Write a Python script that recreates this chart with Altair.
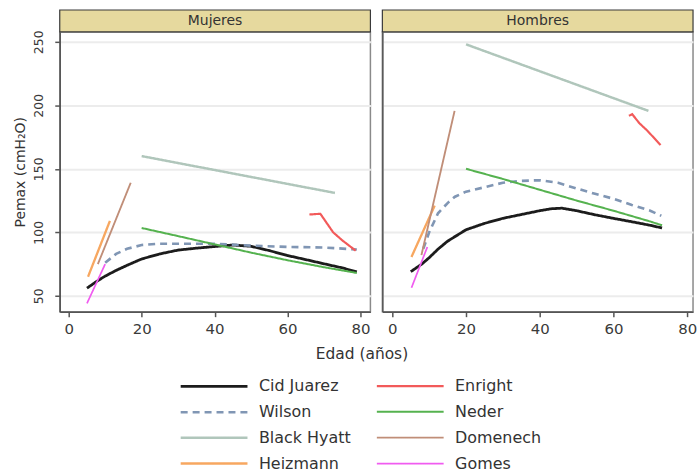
import altair as alt
import pandas as pd

# ---------------- data ----------------
# Mujeres
muj_cid_age = [5, 8, 10, 13, 16, 20, 25, 30, 35, 40, 45, 50, 55, 60, 65, 70, 75, 79]
muj_cid_val = [56, 62, 65.5, 70, 74, 79, 83, 86, 87.5, 88.8, 90, 89, 85.6, 81.7, 78.5, 75.2, 72, 68.8]
muj_wil_age = [10, 13, 16, 20, 25, 30, 40, 50, 60, 70, 79]
muj_wil_val = [76, 83, 87, 90, 91, 91, 91, 89.5, 88.5, 88, 86.5]
muj_bh_age = [20, 73]
muj_bh_val = [160, 131]
muj_hei_age = [5.3, 11.3]
muj_hei_val = [65, 109]
muj_enr_age = [66, 69, 72.5, 75, 78.7]
muj_enr_val = [114, 114.6, 100, 93.7, 85.5]
muj_ned_age = [20, 30, 40, 50, 60, 70, 79]
muj_ned_val = [103.4, 97, 90.5, 84, 78, 72.5, 68]
muj_dom_age = [8, 17]
muj_dom_val = [75, 139]
muj_gom_age = [5, 10]
muj_gom_val = [44, 75]

# Hombres
hom_cid_age = [5, 8, 10, 12.5, 15, 20, 25, 30, 35, 40, 43, 46, 50, 55, 60, 65, 70, 73.2]
hom_cid_val = [69, 75, 80, 87, 93, 102, 107, 111, 114, 117, 118.5, 119, 117, 113.8, 111, 108.3, 105.5, 103.4]
hom_wil_age = [8.4, 10, 12.4, 15, 17, 20, 25, 30, 35, 40, 45, 50, 55, 60, 65, 70, 73]
hom_wil_val = [87, 100, 115, 123, 128, 132, 135.5, 139, 140.5, 141, 139, 134.5, 130.3, 126.4, 121.5, 117, 113]
hom_bh_age = [20, 69.5]
hom_bh_val = [248, 195.6]
hom_hei_age = [5.2, 11.5]
hom_hei_val = [80.6, 121]
hom_enr_age = [64.2, 65.1, 67, 69.2, 72.8]
hom_enr_val = [191.7, 193, 186, 180, 168.7]
hom_ned_age = [20, 30, 40, 50, 60, 70, 73.2]
hom_ned_val = [150, 142, 133.5, 125, 117, 108.5, 105.5]
hom_dom_age = [7.9, 16.9]
hom_dom_val = [82, 195.6]
hom_gom_age = [5.2, 9.5]
hom_gom_val = [56.3, 88.4]

panels = ["Mujeres", "Hombres"]
series_order = ["Cid Juarez", "Wilson", "Black Hyatt", "Heizmann",
                "Enright", "Neder", "Domenech", "Gomes"]
series_colors = ["#1c1c1c", "#8096b4", "#b0c6bb", "#f7a760",
                 "#f25a5a", "#55b24f", "#c08e78", "#f05cf0"]
series_dash = [[1, 0], [7, 5], [1, 0], [1, 0], [1, 0], [1, 0], [1, 0], [1, 0]]
series_width = [2.8, 1.7, 1.6, 1.6, 1.6, 1.6, 1.6, 1.6]

table = [
    ("Mujeres", "Cid Juarez", muj_cid_age, muj_cid_val),
    ("Mujeres", "Wilson", muj_wil_age, muj_wil_val),
    ("Mujeres", "Black Hyatt", muj_bh_age, muj_bh_val),
    ("Mujeres", "Heizmann", muj_hei_age, muj_hei_val),
    ("Mujeres", "Enright", muj_enr_age, muj_enr_val),
    ("Mujeres", "Neder", muj_ned_age, muj_ned_val),
    ("Mujeres", "Domenech", muj_dom_age, muj_dom_val),
    ("Mujeres", "Gomes", muj_gom_age, muj_gom_val),
    ("Hombres", "Cid Juarez", hom_cid_age, hom_cid_val),
    ("Hombres", "Wilson", hom_wil_age, hom_wil_val),
    ("Hombres", "Black Hyatt", hom_bh_age, hom_bh_val),
    ("Hombres", "Heizmann", hom_hei_age, hom_hei_val),
    ("Hombres", "Enright", hom_enr_age, hom_enr_val),
    ("Hombres", "Neder", hom_ned_age, hom_ned_val),
    ("Hombres", "Domenech", hom_dom_age, hom_dom_val),
    ("Hombres", "Gomes", hom_gom_age, hom_gom_val),
]
rows = []
for panel, s, ages, vals in table:
    for a, v in zip(ages, vals):
        rows.append({"panel": panel, "serie": s, "edad": a, "pemax": v})
df = pd.DataFrame(rows)

x_ticks = [0, 20, 40, 60, 80]
y_ticks = [50, 100, 150, 200, 250]

W, H = 312, 281
FONT = "DejaVu Sans"


def legend_spec():
    return alt.Legend(title=None, orient="none", legendX=142, legendY=343,
                      direction="vertical", columns=2,
                      symbolType="M-3,0H3", symbolSize=500,
                      labelFontSize=16, labelColor="#333333",
                      labelOffset=32, columnPadding=21, rowPadding=5,
                      padding=0)


def make_panel(name, xdom, first):
    sub = df[df["panel"] == name]
    if first:
        yaxis = alt.Axis(values=y_ticks, title="Pemax (cmH₂O)", labelAngle=270,
                         labelAlign="center", labelBaseline="bottom",
                         labelFontSize=12.5, labelPadding=9, tickSize=5,
                         titleFontSize=14, titlePadding=5, titleFontWeight="normal",
                         grid=True)
        xaxis = alt.Axis(values=x_ticks, title="Edad (años)", grid=False,
                         labelFontSize=15, tickSize=5, labelPadding=5,
                         titleFontSize=15.5, titleFontWeight="normal",
                         titleX=303, titleY=42, titleBaseline="middle",
                         titleAlign="center", titleAnchor="start")
    else:
        yaxis = alt.Axis(values=y_ticks, title=None, labels=False, ticks=False,
                         grid=True)
        xaxis = alt.Axis(values=x_ticks, title=None, grid=False,
                         labelFontSize=15, tickSize=5, labelPadding=5)

    lines = alt.Chart(sub).mark_line().encode(
        x=alt.X("edad:Q", scale=alt.Scale(domain=xdom, nice=False, zero=False), axis=xaxis),
        y=alt.Y("pemax:Q", scale=alt.Scale(domain=[37.5, 257.8], nice=False, zero=False), axis=yaxis),
        color=alt.Color("serie:N", scale=alt.Scale(domain=series_order, range=series_colors),
                        legend=legend_spec()),
        strokeDash=alt.StrokeDash("serie:N", scale=alt.Scale(domain=series_order, range=series_dash),
                                  legend=legend_spec()),
        strokeWidth=alt.StrokeWidth("serie:N", scale=alt.Scale(domain=series_order, range=series_width),
                                    legend=legend_spec()),
    )

    hdr = pd.DataFrame({"t": [name]})
    header = alt.Chart(hdr).mark_rect(fill="#e6d99e", stroke="#3a3a3a", strokeWidth=1.2).encode(
        x=alt.value(0), x2=alt.value(W), y=alt.value(-22), y2=alt.value(0))
    header_txt = alt.Chart(hdr).mark_text(fontSize=14, color="#333333", font=FONT).encode(
        text="t:N", x=alt.value(W / 2), y=alt.value(-11))

    return alt.layer(lines, header, header_txt).properties(width=W, height=H)


left = make_panel("Mujeres", [-2.46, 82.73], True)
right = make_panel("Hombres", [-2.7, 81.6], False)

chart = alt.hconcat(left, right, spacing=12, bounds="flush").properties(
    padding={"left": 13, "top": 7, "right": 2, "bottom": 2}
).configure(font=FONT).configure_view(
    stroke="#8a8a8a", strokeWidth=1.5
).configure_axis(
    domainColor="#555555", domainWidth=1.5, tickColor="#555555", tickWidth=1.5,
    labelColor="#3a3a3a", titleColor="#333333", gridColor="#ececec", gridWidth=2,
    labelFont=FONT, titleFont=FONT
).configure_legend(labelFont=FONT)

chart.save("out.html", embed_options={"renderer": "svg", "actions": False})
